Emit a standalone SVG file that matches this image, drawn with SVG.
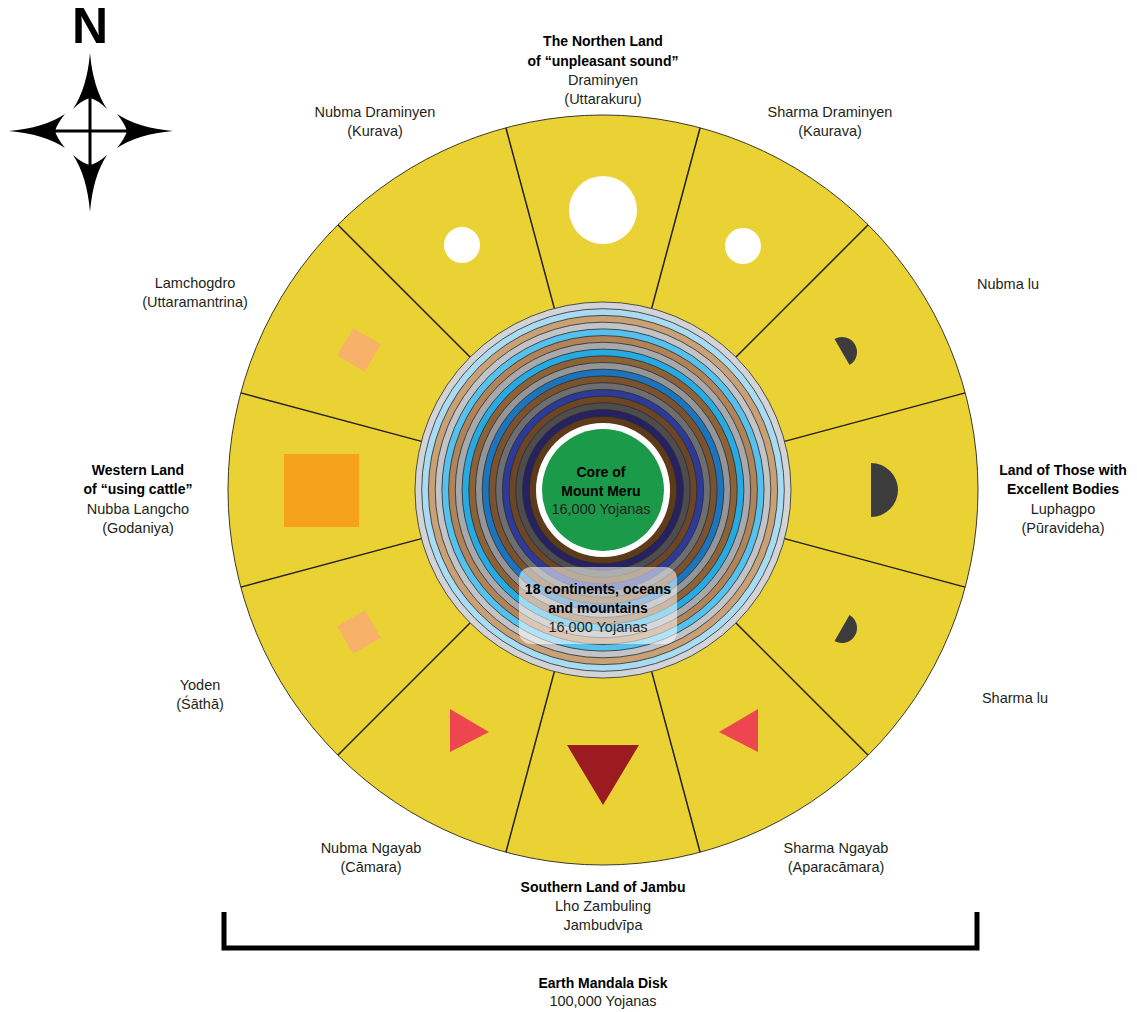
<svg xmlns="http://www.w3.org/2000/svg" width="1137" height="1012" viewBox="0 0 1137 1012">
<style>
  text { font-family: "Liberation Sans", Arial, sans-serif; font-size: 14.5px; fill: #231f20; text-anchor: middle; }
  .b { font-weight: bold; font-size: 14px; fill: #000; }
  .div { stroke: #231f20; stroke-width: 1.5; fill: none; }
  .ring { stroke: #2b2b2b; stroke-width: 0.8; }
  .dot { fill: #ffffff; }
  .dia { fill: #f7b169; }
  .half { fill: #3c3c3c; }
  .tri { fill: #ee4650; }
  .arrow { fill: #000; }
</style>
<rect width="1137" height="1012" fill="#ffffff"/>

<g id="compass">
  <text x="90" y="43" style="font-size:50px;font-weight:bold;fill:#000">N</text>
  <path class="arrow" d="M90,53 Q87,88 73,109 Q82,100 90,98 Q98,100 107,109 Q93,88 90,53 Z"/>
  <path class="arrow" d="M90,212 Q87,176 73,155 Q82,163 90,165 Q98,163 107,155 Q93,176 90,212 Z"/>
  <path class="arrow" d="M9,131 Q44,128 65,114 Q57,124 55,131 Q57,138 65,148 Q44,134 9,131 Z"/>
  <path class="arrow" d="M173,131 Q138,128 117,114 Q125,124 127,131 Q125,138 117,148 Q138,134 173,131 Z"/>
  <line x1="90" y1="96" x2="90" y2="167" stroke="#000" stroke-width="3"/>
  <line x1="53" y1="131" x2="129" y2="131" stroke="#000" stroke-width="3"/>
</g>

<g id="disk">
  <circle cx="603" cy="490" r="375" fill="#ebd234" stroke="#3a3a2a" stroke-width="1"/>
</g>

<g id="connectors">
  <line class="div" x1="651.4" y1="309.4" x2="700.1" y2="127.8"/>
  <line class="div" x1="735.2" y1="357.8" x2="868.2" y2="224.8"/>
  <line class="div" x1="783.6" y1="441.6" x2="965.2" y2="392.9"/>
  <line class="div" x1="783.6" y1="538.4" x2="965.2" y2="587.1"/>
  <line class="div" x1="735.2" y1="622.2" x2="868.2" y2="755.2"/>
  <line class="div" x1="651.4" y1="670.6" x2="700.1" y2="852.2"/>
  <line class="div" x1="554.6" y1="670.6" x2="505.9" y2="852.2"/>
  <line class="div" x1="470.8" y1="622.2" x2="337.8" y2="755.2"/>
  <line class="div" x1="422.4" y1="538.4" x2="240.8" y2="587.1"/>
  <line class="div" x1="422.4" y1="441.6" x2="240.8" y2="392.9"/>
  <line class="div" x1="470.8" y1="357.8" x2="337.8" y2="224.8"/>
  <line class="div" x1="554.6" y1="309.4" x2="505.9" y2="127.8"/>
</g>

<g id="north">
  <circle class="dot" cx="603" cy="210" r="34"/>
  <text class="b" x="603" y="46">The Northen Land</text>
  <text class="b" x="603" y="66">of “unpleasant sound”</text>
  <text x="603" y="85">Draminyen</text>
  <text x="603" y="104">(Uttarakuru)</text>
</g>
<g id="nubma-draminyen">
  <circle class="dot" cx="462" cy="245" r="18"/>
  <text x="375" y="117">Nubma Draminyen</text>
  <text x="375" y="136">(Kurava)</text>
</g>
<g id="sharma-draminyen">
  <circle class="dot" cx="743" cy="246" r="18"/>
  <text x="830" y="117">Sharma Draminyen</text>
  <text x="830" y="136">(Kaurava)</text>
</g>
<g id="lamchogdro">
  <rect class="dia" x="-16" y="-16" width="32" height="32" transform="translate(359,350) rotate(30)"/>
  <text x="195" y="288">Lamchogdro</text>
  <text x="195" y="307">(Uttaramantrina)</text>
</g>
<g id="nubma-lu">
  <path class="half" d="M0,-15 A15,15 0 0 1 0,15 Z" transform="translate(842,352) rotate(-30)"/>
  <text x="1008" y="289">Nubma lu</text>
</g>
<g id="west">
  <rect x="284" y="454" width="75" height="73" fill="#f6a21d"/>
  <text class="b" x="138" y="475">Western Land</text>
  <text class="b" x="138" y="494">of “using cattle”</text>
  <text x="138" y="514">Nubba Langcho</text>
  <text x="138" y="533">(Godaniya)</text>
</g>
<g id="east">
  <path class="half" d="M871,463 A27,27 0 0 1 871,517 Z"/>
  <text class="b" x="1063" y="475">Land of Those with</text>
  <text class="b" x="1063" y="494">Excellent Bodies</text>
  <text x="1063" y="514">Luphagpo</text>
  <text x="1063" y="533">(Pūravideha)</text>
</g>
<g id="yoden">
  <rect class="dia" x="-16" y="-16" width="32" height="32" transform="translate(359,632) rotate(-30)"/>
  <text x="200" y="690">Yoden</text>
  <text x="200" y="709">(Śāthā)</text>
</g>
<g id="sharma-lu">
  <path class="half" d="M0,-15 A15,15 0 0 1 0,15 Z" transform="translate(842,628) rotate(30)"/>
  <text x="1015" y="703">Sharma lu</text>
</g>
<g id="nubma-ngayab">
  <polygon class="tri" points="450,709 489,732 450,752"/>
  <text x="371" y="853">Nubma Ngayab</text>
  <text x="371" y="872">(Cāmara)</text>
</g>
<g id="south">
  <polygon points="567,745 639,745 603,805" fill="#9b1b20"/>
  <text class="b" x="603" y="892">Southern Land of Jambu</text>
  <text x="603" y="911">Lho Zambuling</text>
  <text x="603" y="930">Jambudvīpa</text>
</g>
<g id="sharma-ngayab">
  <polygon class="tri" points="758,709 719,732 758,752"/>
  <text x="836" y="853">Sharma Ngayab</text>
  <text x="836" y="872">(Aparacāmara)</text>
</g>

<g id="rings">
  <circle class="ring" cx="603" cy="490" r="188" fill="#d3d4d8"/>
  <circle class="ring" cx="603" cy="490" r="181.3" fill="#a9dcf3"/>
  <circle class="ring" cx="603" cy="490" r="174.6" fill="#c9a177"/>
  <circle class="ring" cx="603" cy="490" r="167.8" fill="#c2c4c7"/>
  <circle class="ring" cx="603" cy="490" r="161.1" fill="#55c1ec"/>
  <circle class="ring" cx="603" cy="490" r="154.4" fill="#b08458"/>
  <circle class="ring" cx="603" cy="490" r="147.7" fill="#a7a9ac"/>
  <circle class="ring" cx="603" cy="490" r="140.9" fill="#27aae1"/>
  <circle class="ring" cx="603" cy="490" r="134.2" fill="#8c6239"/>
  <circle class="ring" cx="603" cy="490" r="127.5" fill="#939598"/>
  <circle class="ring" cx="603" cy="490" r="120.8" fill="#1c75bc"/>
  <circle class="ring" cx="603" cy="490" r="114.1" fill="#7a5230"/>
  <circle class="ring" cx="603" cy="490" r="107.3" fill="#6d6e71"/>
  <circle class="ring" cx="603" cy="490" r="100.6" fill="#2e3a97"/>
  <circle class="ring" cx="603" cy="490" r="93.9" fill="#6b4526"/>
  <circle class="ring" cx="603" cy="490" r="87.2" fill="#4d4d4f"/>
  <circle class="ring" cx="603" cy="490" r="80.4" fill="#262262"/>
  <circle class="ring" cx="603" cy="490" r="73.7" fill="#5c3a1a"/>
</g>

<g id="core">
  <circle cx="603" cy="490" r="67" fill="#ffffff"/>
  <circle cx="603" cy="490" r="61" fill="#1b9a4a"/>
  <text class="b" x="601" y="477">Core of</text>
  <text class="b" x="601" y="496">Mount Meru</text>
  <text x="601" y="514">16,000 Yojanas</text>
</g>

<g id="continents-label">
  <rect x="519" y="567" width="158" height="77" rx="12" fill="#ffffff" fill-opacity="0.55"/>
  <text class="b" x="598" y="594">18 continents, oceans</text>
  <text class="b" x="598" y="613">and mountains</text>
  <text x="598" y="632">16,000 Yojanas</text>
</g>

<g id="bracket">
  <path d="M224,912 V948 H977 V912" fill="none" stroke="#000" stroke-width="5"/>
  <text class="b" x="603" y="988">Earth Mandala Disk</text>
  <text x="603" y="1006">100,000 Yojanas</text>
</g>
</svg>
